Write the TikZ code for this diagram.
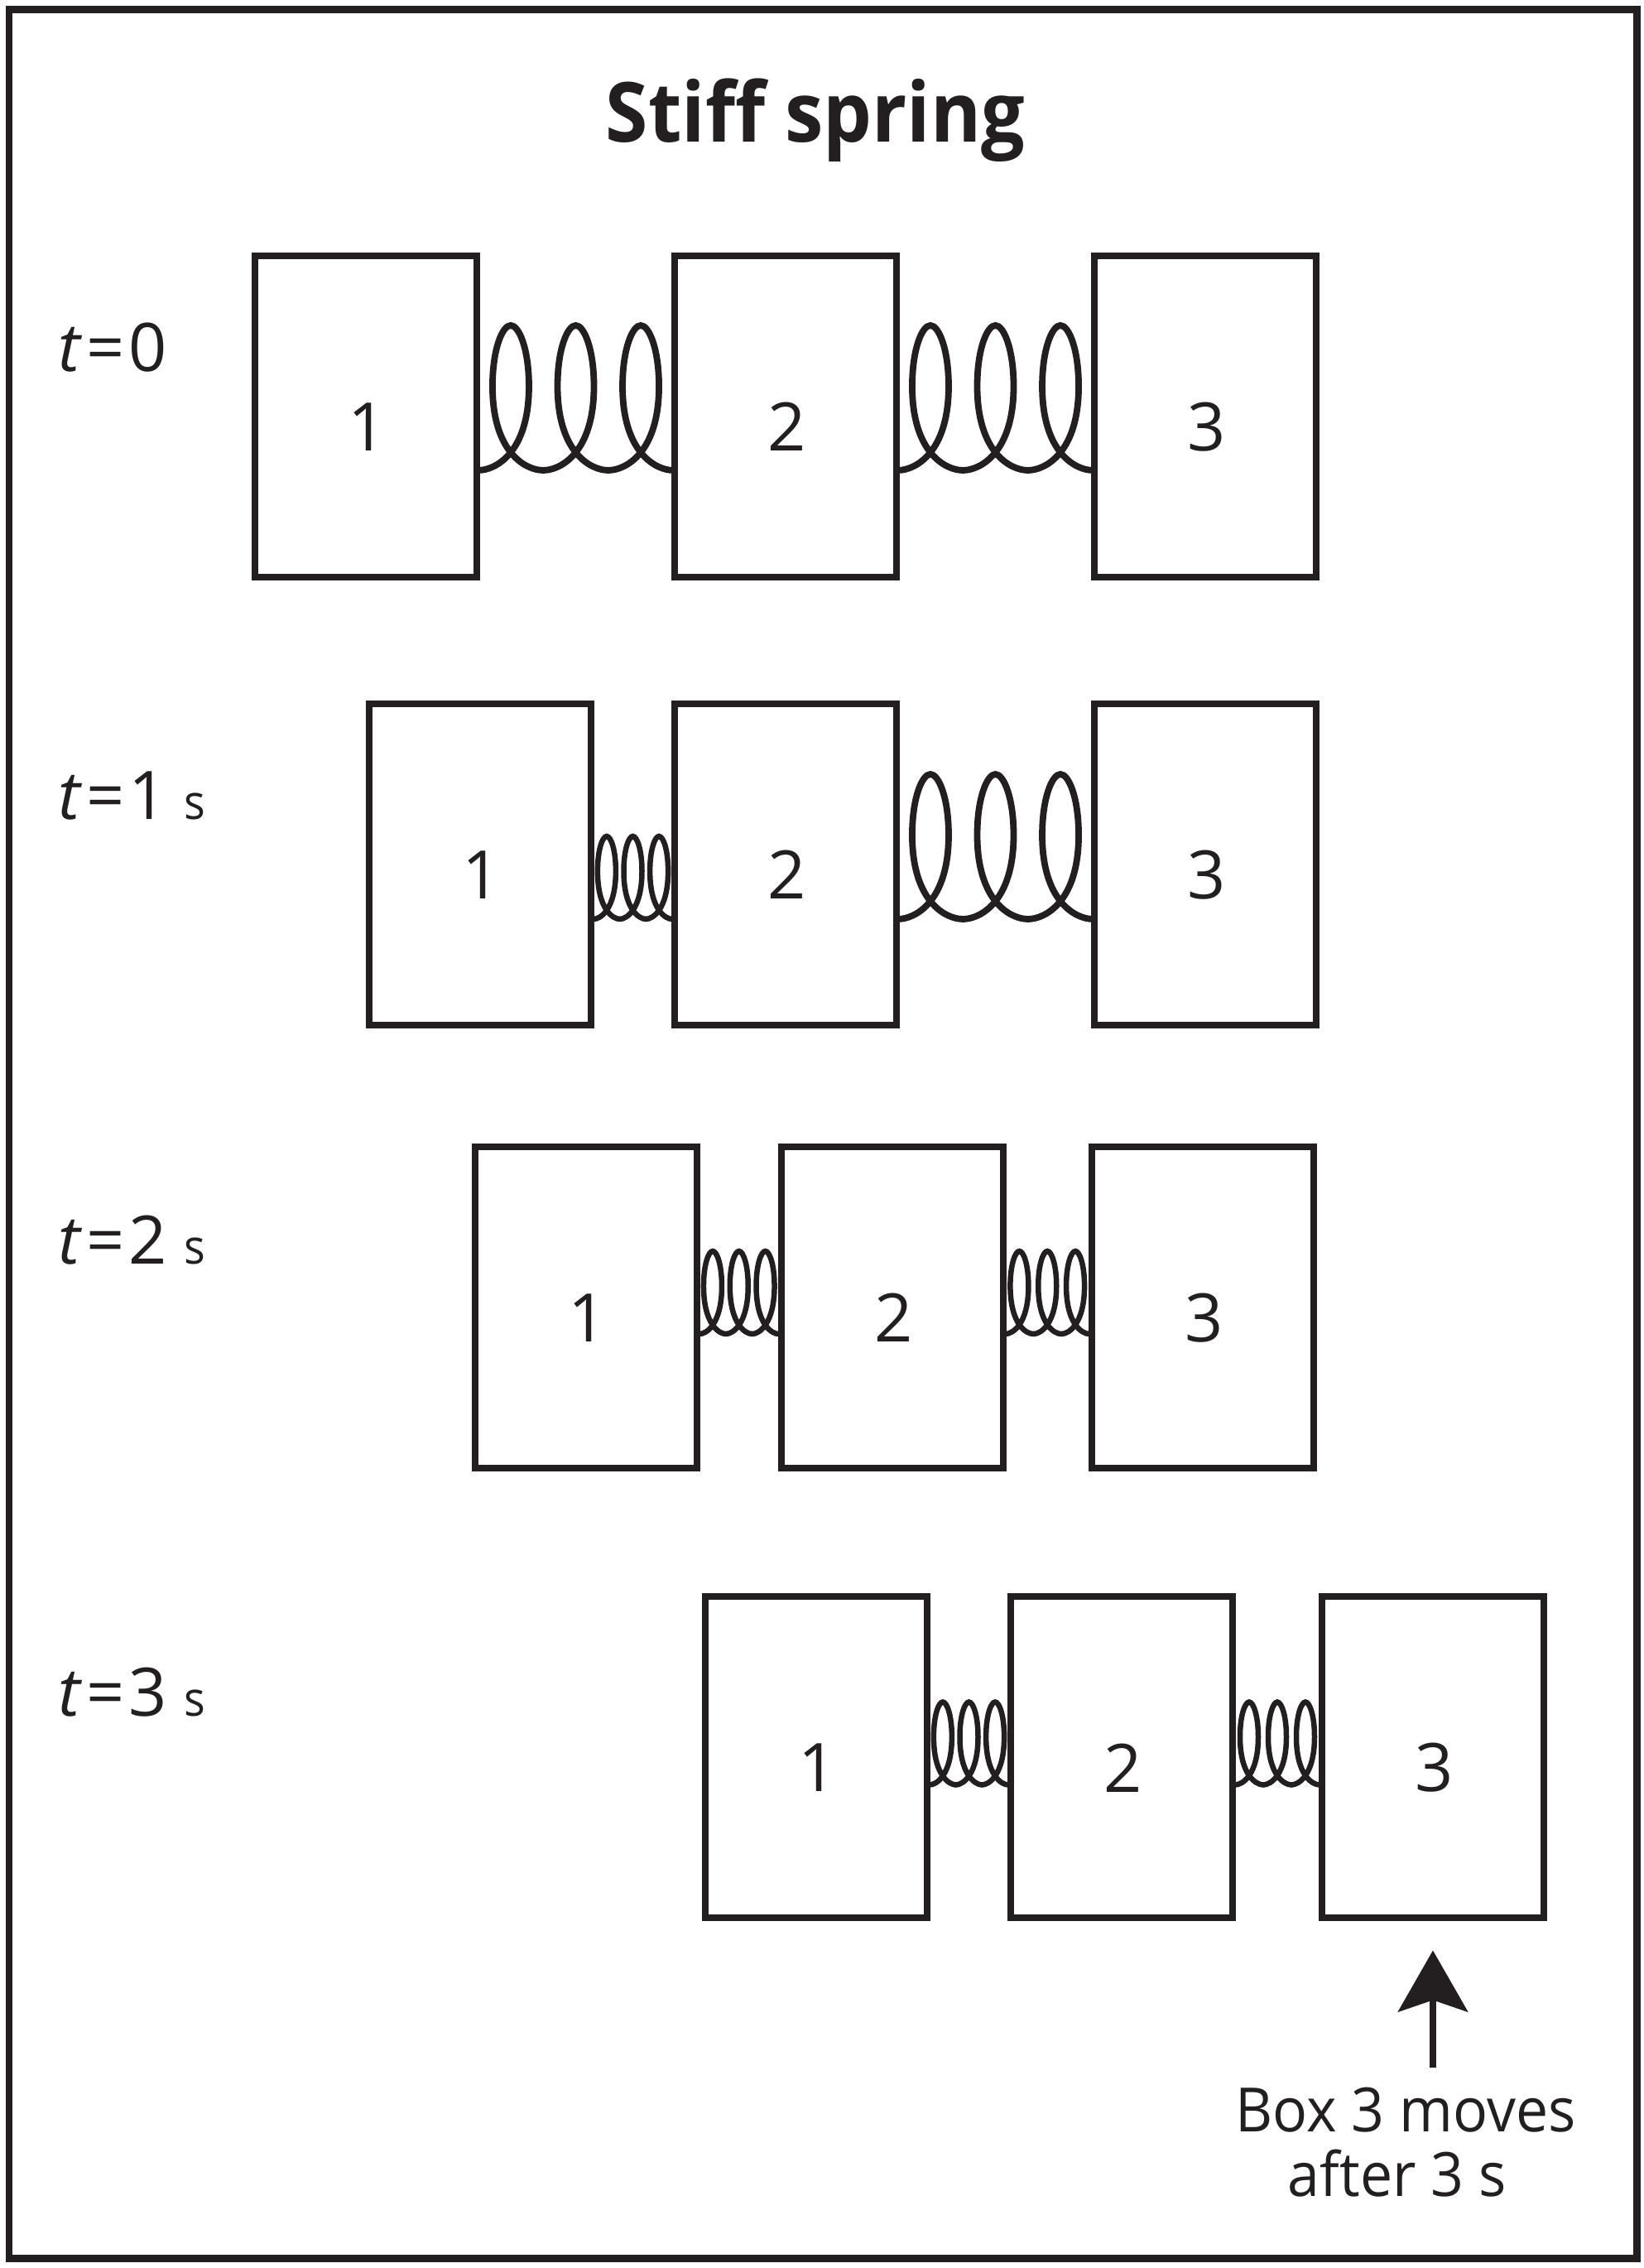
\documentclass[tikz,border=0pt]{standalone}
\usepackage{fontspec}
\setmainfont{Open Sans}
\newfontfamily\narrowfont[FakeStretch=0.93]{Open Sans}
\newfontfamily\notefont[FakeStretch=0.945]{Open Sans}
\usetikzlibrary{calc,arrows.meta}

\definecolor{inkblack}{HTML}{231F20}

\tikzset{
  frameline/.style={draw=inkblack,line width=0.09cm},
  massbox/.style={draw=inkblack,line width=0.08cm,minimum width=2.68cm,minimum height=3.88cm,inner sep=0pt},
  massnum/.style={text=inkblack,font=\fontsize{23}{25}\selectfont,yshift=-0.125cm,xshift=0.02cm},
  coilline/.style={draw=inkblack,line width=0.078cm,line cap=round},
  shortcoil/.style={draw=inkblack,line width=0.065cm,line cap=round},
  timelabel/.style={text=inkblack,anchor=base west,inner sep=0pt,font=\fontsize{23}{25}\selectfont}
}

% spring between two boxes: line style, left box, right box, drop of the base line, height, half width of a loop
\newcommand{\coil}[6]{
  \coordinate (cs) at ($(#2.east)+(0,-#4)$);
  \coordinate (ce) at ($(#3.west)+(0,-#4)$);
  \foreach \c in {0.16,0.5,0.84} {
    \draw[#1] ($(cs)!\c-0.17!(ce)$)
      .. controls ($(cs)!\c-0.08!(ce)$) and ($(cs)!\c!(ce)+(#6,0.12*#5)$) .. ($(cs)!\c!(ce)+(#6,0.58*#5)$)
      .. controls ($(cs)!\c!(ce)+(#6,0.84*#5)$) and ($(cs)!\c!(ce)+(0.45*#6,#5)$) .. ($(cs)!\c!(ce)+(0,#5)$)
      .. controls ($(cs)!\c!(ce)+(-0.45*#6,#5)$) and ($(cs)!\c!(ce)+(-#6,0.84*#5)$) .. ($(cs)!\c!(ce)+(-#6,0.58*#5)$)
      .. controls ($(cs)!\c!(ce)+(-#6,0.12*#5)$) and ($(cs)!\c+0.08!(ce)$) .. ($(cs)!\c+0.17!(ce)$);
  }
}
\newcommand{\smalls}{\hspace{0.2cm}{\narrowfont\fontsize{16.5}{20}\selectfont s}}
\newcommand{\eqs}{\kern0.05cm=\kern0.05cm}

\begin{document}
\begin{tikzpicture}

\useasboundingbox (0,0) rectangle (19.85,27.39);
\draw[frameline] (0.11,0.12) rectangle (19.77,27.27);

\node (title) at (9.85,25.67) [anchor=base,text=inkblack,inner sep=0pt,font=\narrowfont\fontsize{28.5}{30}\selectfont\bfseries] {Stiff spring};

% t = 0
\node (time0) at (0.70,22.90) [timelabel] {\textit{t}\eqs 0};
\node (a1) at (4.42,22.36) [massbox,label={[massnum]center:1}] {};
\node (a2) at (9.49,22.36) [massbox,label={[massnum]center:2}] {};
\node (a3) at (14.56,22.36) [massbox,label={[massnum]center:3}] {};
\coil{coilline}{a1}{a2}{0.65}{1.75}{0.22}
\coil{coilline}{a2}{a3}{0.65}{1.75}{0.22}

% t = 1 s
\node (time1) at (0.70,17.49) [timelabel] {\textit{t}\eqs 1\smalls};
\node (b1) at (5.80,16.95) [massbox,label={[massnum]center:1}] {};
\node (b2) at (9.49,16.95) [massbox,label={[massnum]center:2}] {};
\node (b3) at (14.56,16.95) [massbox,label={[massnum]center:3}] {};
\coil{shortcoil}{b1}{b2}{0.66}{1.00}{0.11}
\coil{coilline}{b2}{b3}{0.66}{1.75}{0.22}

% t = 2 s
\node (time2) at (0.70,12.12) [timelabel] {\textit{t}\eqs 2\smalls};
\node (c1) at (7.08,11.60) [massbox,label={[massnum]center:1}] {};
\node (c2) at (10.775,11.60) [massbox,label={[massnum]center:2}] {};
\node (c3) at (14.53,11.60) [massbox,label={[massnum]center:3}] {};
\coil{shortcoil}{c1}{c2}{0.32}{1.00}{0.11}
\coil{shortcoil}{c2}{c3}{0.32}{1.00}{0.11}

% t = 3 s
\node (time3) at (0.70,6.66) [timelabel] {\textit{t}\eqs 3\smalls};
\node (d1) at (9.86,6.165) [massbox,label={[massnum]center:1}] {};
\node (d2) at (13.55,6.165) [massbox,label={[massnum]center:2}] {};
\node (d3) at (17.31,6.165) [massbox,label={[massnum]center:3}] {};
\coil{shortcoil}{d1}{d2}{0.33}{1.00}{0.11}
\coil{shortcoil}{d2}{d3}{0.33}{1.00}{0.11}

% arrow and its note under box 3
\coordinate (head) at ($(d3.south)+(0,-0.35)$);
\coordinate (tail) at ($(head)+(0,-1.42)$);
\draw[draw=inkblack,fill=inkblack,line width=0.085cm,-{Stealth[length=0.74cm,width=0.84cm,inset=0.14cm]}] (tail) -- (head);
\node (note) at (16.98,0.86) [text=inkblack,align=center,inner sep=0pt,anchor=base,font=\notefont\fontsize{21}{22.2}\selectfont] {Box 3 moves\\after 3 s\hspace*{0.2cm}};

\end{tikzpicture}
\end{document}
